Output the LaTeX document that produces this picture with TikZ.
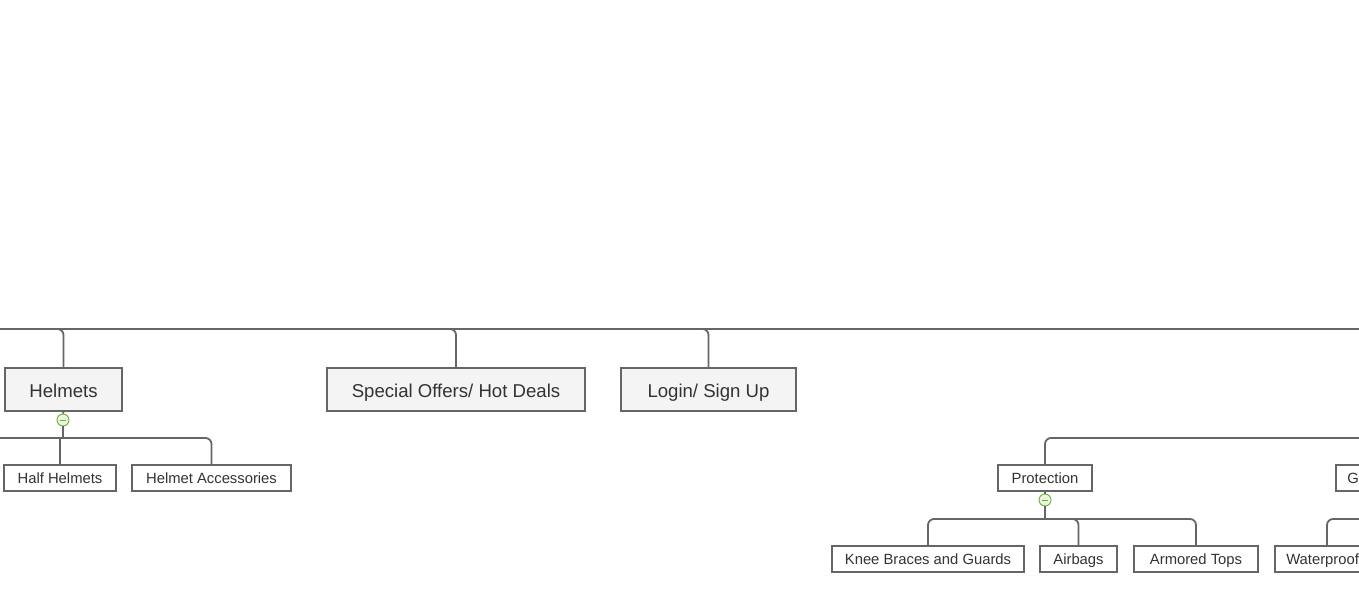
\documentclass[tikz,border=0pt]{standalone}
\usepackage{fontspec}
\setmainfont{Liberation Sans}
\usetikzlibrary{calc}
\definecolor{linegray}{HTML}{666666}
\definecolor{boxfill}{HTML}{F4F4F4}
\definecolor{txt}{HTML}{333333}
\definecolor{colgreen}{HTML}{6FAE3A}
\definecolor{colfill}{HTML}{E9F5DC}
\tikzset{
 topic/.style={draw=linegray, line width=1.6pt, fill=boxfill, text=txt,
   font=\fontsize{18.6}{22}\selectfont, minimum height=43pt, inner xsep=0pt, inner ysep=0pt,
   text height=15.3pt, text depth=0pt},
 subtopic/.style={draw=linegray, line width=1.6pt, fill=white, text=txt,
   font=\fontsize{14.8}{18}\selectfont, minimum height=26pt, inner xsep=0pt, inner ysep=0pt,
   text height=10.6pt, text depth=0pt},
 edgetopic/.style={subtopic, anchor=west, inner xsep=11.5pt},
 busline/.style={draw=linegray, line width=2.6pt},
 conn/.style={draw=linegray, line width=1.8pt, rounded corners=6pt},
 collapse/.style={circle, draw=colgreen, fill=colfill, line width=0.9pt, minimum size=12pt, inner sep=0pt,
   path picture={\draw[colgreen, line width=0.9pt] ([xshift=-3.2pt]path picture bounding box.center) -- ([xshift=3.2pt]path picture bounding box.center);}}
}
\begin{document}
\begin{tikzpicture}[x=1pt,y=-1pt]
\useasboundingbox (0,0) rectangle (1359,610);
\clip (0,0) rectangle (1359,610);
% bus coordinates
\coordinate (busL) at (0,329);
\coordinate (busR) at (1359,329);
\coordinate (hbusL) at (0,438);
\coordinate (rbusR) at (1359,438);
\coordinate (pbus) at (1045,519);
\coordinate (wbusR) at (1359,519);
% main topics
\node[topic, minimum width=117pt] (helmets) at (63.5,389.5) {Helmets};
\node[topic, minimum width=258pt] (special) at (456,389.5) {Special Offers/ Hot Deals};
\node[topic, minimum width=175pt] (login) at (708.5,389.5) {Login/ Sign Up};
% helmet subtopics
\node[subtopic, minimum width=112pt] (hhalf) at (60,478) {Half Helmets};
\node[subtopic, minimum width=159pt] (hacc) at (211.5,478) {Helmet Accessories};
% protection
\node[subtopic, minimum width=94pt] (prot) at (1045,478) {Protection};
\node[edgetopic] (gloves) at (1335,478) {Gloves};
\node[subtopic, minimum width=192pt] (knee) at (928,559) {Knee Braces and Guards};
\node[subtopic, minimum width=77pt] (airbags) at (1078.5,559) {Airbags};
\node[subtopic, minimum width=124pt] (armored) at (1196,559) {Armored Tops};
\node[edgetopic] (water) at (1274,559) {Waterproof};
% collapse markers
\node[collapse] (hcol) at (63,420) {};
\node[collapse] (pcol) at (1045,500) {};
% top bus
\draw[busline] (busL) -- (busR);
\draw[conn] ($(helmets.north |- busL)+(-8,0)$) -| (helmets.north);
\draw[conn] ($(special.north |- busL)+(-8,0)$) -| (special.north);
\draw[conn] ($(login.north |- busL)+(-8,0)$) -| (login.north);
% helmets children
\draw[conn] (helmets.south) -- (hcol.north);
\draw[conn] (hbusL) -| (hacc.north);
\draw[conn] (hcol.south) -- (hcol.south |- hbusL);
\draw[conn] (hhalf.north) -- (hhalf.north |- hbusL);
% right branch
\draw[conn] (rbusR) -| (prot.north);
\draw[conn] (prot.south) -- (pcol.north);
\draw[conn] (pcol.south) -- (pbus);
\draw[conn] (knee.north) |- (pbus) -| (armored.north);
\draw[conn] (pbus) -| (airbags.north);
\draw[conn] (wbusR) -| ($(water.north west)+(53,0)$);
\end{tikzpicture}
\end{document}
